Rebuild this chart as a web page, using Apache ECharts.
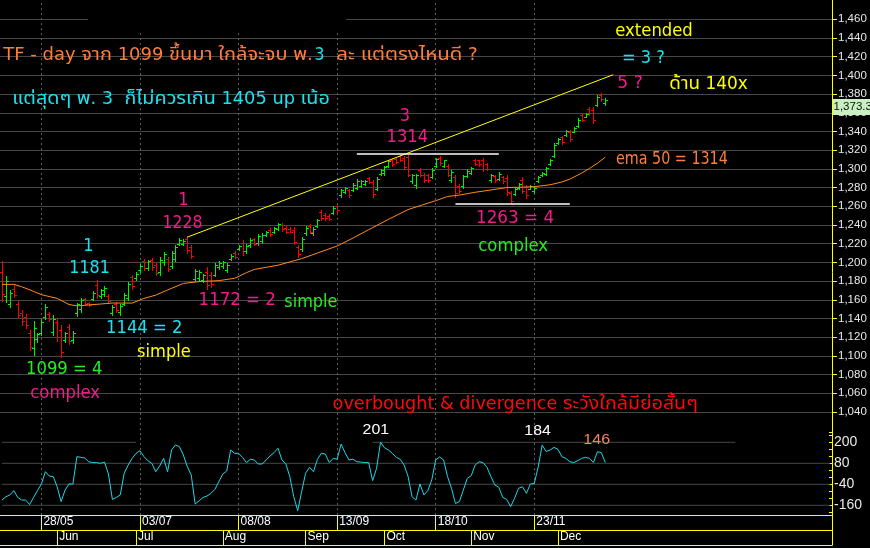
<!DOCTYPE html>
<html><head><meta charset="utf-8">
<script src="https://cdn.jsdelivr.net/npm/echarts@6/dist/echarts.min.js"></script>
<style>html,body{margin:0;padding:0;background:#000;}#c{width:870px;height:548px;}</style>
</head><body><div id="c"></div>
<script>
// ---------------- DATA ----------------
const dates = [
'14/05','15/05','16/05','17/05','18/05','21/05','22/05','23/05','24/05','25/05',
'28/05','29/05','30/05','31/05','01/06','05/06','06/06','07/06','08/06',
'11/06','12/06','13/06','14/06','15/06','18/06','19/06','20/06','21/06','22/06',
'25/06','26/06','27/06','28/06','29/06','02/07','03/07','04/07','05/07','06/07',
'09/07','10/07','11/07','12/07','13/07','16/07','17/07','18/07','19/07','20/07',
'23/07','24/07','25/07','26/07','27/07','30/07','31/07','01/08','02/08','06/08','07/08','08/08',
'09/08','10/08','14/08','15/08','16/08','17/08','20/08','21/08','22/08','23/08','24/08',
'27/08','28/08','29/08','30/08','31/08','03/09','04/09','05/09','06/09','07/09',
'10/09','11/09','12/09','13/09','14/09','17/09','18/09','19/09','20/09','21/09',
'24/09','25/09','26/09','27/09','28/09','01/10','02/10','03/10','04/10','05/10',
'08/10','09/10','10/10','11/10','12/10','15/10','16/10','17/10','18/10','19/10',
'22/10','24/10','25/10','26/10','29/10','30/10','31/10','01/11','02/11',
'05/11','06/11','07/11','08/11','09/11','12/11','13/11','14/11','15/11','16/11',
'19/11','20/11','21/11','22/11','23/11','26/11','27/11','28/11','29/11','30/11',
'03/12','04/12','06/12','07/12','11/12','12/12','13/12','14/12',
'17/12','18/12','19/12','20/12','21/12'];

const opens = [1190,1164,1156,1172,1156,1146,1142,1125,1108,1118,1125,1142,1145,1126,1136,1128,1117,1131,1117,1146,
1150,1161,1157,1161,1176,1164,1166,1164,1146,1156,1147,1156,1162,1184,1183,1192,1202,1194,1203,1197,
1190,1200,1204,1196,1204,1220,1220,1225,1216,1182,1183,1181,1190,1187,1187,1195,1196,1192,1204,1210,
1214,1221,1212,1219,1225,1221,1223,1229,1235,1232,1236,1240,1237,1236,1235,1216,1214,1231,1239,1231,
1239,1254,1251,1250,1253,1260,1272,1275,1277,1277,1280,1282,1284,1290,1286,1279,1295,1296,1303,1310,
1311,1314,1312,1313,1287,1283,1299,1294,1293,1291,1303,1312,1303,1303,1288,1291,1282,1282,1292,1296,
1310,1309,1310,1305,1288,1292,1289,1291,1290,1274,1273,1280,1288,1281,1279,1276,1287,1293,1295,1305,
1314,1328,1334,1336,1340,1340,1346,1358,1356,1364,1363,1368,1379,1370];
const highs = [1201,1185,1170,1176,1159,1149,1145,1128,1137,1125,1139,1155,1147,1144,1139,1133,1126,1134,1127,1157,
1162,1162,1158,1169,1181,1172,1175,1166,1154,1158,1155,1167,1179,1187,1190,1198,1204,1203,1205,1199,
1206,1211,1206,1212,1219,1226,1225,1228,1219,1193,1192,1188,1195,1190,1199,1201,1202,1199,1209,1212,
1219,1224,1220,1226,1226,1230,1231,1234,1237,1238,1242,1242,1239,1238,1238,1219,1227,1239,1241,1238,
1246,1256,1253,1252,1260,1261,1279,1281,1279,1285,1289,1288,1288,1291,1288,1291,1300,1303,1309,1311,
1312,1315,1314,1315,1295,1295,1301,1296,1295,1301,1312,1314,1310,1305,1299,1294,1284,1294,1300,1302,
1311,1310,1312,1306,1295,1294,1297,1292,1294,1276,1280,1285,1291,1283,1283,1282,1292,1297,1302,1311,
1328,1333,1335,1342,1342,1345,1354,1360,1360,1366,1366,1379,1381,1376];
const lows = [1159,1158,1152,1163,1141,1133,1130,1106,1101,1115,1122,1139,1137,1122,1116,1099,1115,1113,1114,1143,
1147,1154,1153,1160,1162,1162,1164,1157,1144,1147,1144,1154,1160,1172,1181,1190,1192,1192,1192,1187,
1187,1197,1191,1194,1201,1219,1219,1210,1205,1180,1180,1179,1172,1174,1185,1193,1194,1190,1203,1205,
1213,1208,1210,1217,1219,1219,1221,1228,1228,1231,1235,1234,1231,1232,1220,1206,1212,1229,1231,1229,
1238,1245,1245,1245,1252,1254,1270,1274,1270,1276,1278,1281,1283,1285,1270,1277,1294,1294,1302,1303,
1306,1308,1300,1292,1285,1280,1292,1286,1286,1290,1302,1304,1302,1292,1286,1270,1274,1280,1291,1295,
1304,1303,1298,1299,1286,1286,1288,1285,1272,1263,1272,1279,1274,1269,1278,1274,1286,1292,1294,1304,
1313,1327,1327,1335,1330,1339,1345,1351,1355,1358,1349,1367,1373,1368];
const closes = [1166,1180,1167,1165,1144,1137,1133,1110,1130,1123,1136,1152,1139,1140,1120,1104,1124,1116,1125,1155,
1160,1156,1154,1167,1165,1170,1173,1159,1152,1149,1153,1165,1177,1175,1188,1196,1194,1201,1195,1189,
1203,1209,1193,1210,1217,1224,1223,1213,1207,1191,1190,1186,1176,1177,1197,1199,1200,1197,1207,1206,
1218,1212,1218,1224,1220,1228,1229,1233,1230,1237,1241,1236,1233,1233,1222,1209,1225,1237,1233,1236,
1245,1247,1247,1246,1258,1256,1277,1280,1272,1283,1287,1287,1287,1286,1273,1289,1299,1302,1308,1305,
1307,1309,1302,1294,1293,1293,1293,1288,1288,1299,1311,1306,1309,1294,1297,1274,1276,1292,1298,1301,
1305,1305,1300,1300,1293,1288,1295,1287,1275,1266,1278,1284,1276,1272,1282,1280,1291,1296,1301,1310,
1326,1332,1329,1341,1332,1344,1352,1352,1359,1360,1352,1377,1375,1373.3];

// EMA 50 at these bar positions
const emaIdx = [0,3,5,8,10,14,17,19,22,25,28,33,36,39,42,46,50,55,59,62,64,70,76,80,85,89,93,98,103,107,110,113,116,120,124,128,132,135,139,142,144,147,149,151,153];
const emaVal = [1176.5,1176.5,1174,1169,1165.5,1161.5,1155,1153.5,1154.5,1155.5,1156.5,1156.5,1161.5,1165,1170.5,1177.5,1179.5,1180.5,1183,1189,1192.5,1197,1204,1210,1217.5,1226,1235,1246,1256.5,1262,1266,1270.5,1272,1275,1277.5,1280,1280.5,1281,1283,1286,1289,1295.5,1300.5,1306,1312.5];

// CCI (lower panel)
const cci = [-130,-111,-101,-76,-115,-130,-130,-156,-115,-76,-38,32,7,4,-54,-139,-73,-38,-38,118,
114,110,89,84,84,80,87,19,-126,-115,-101,23,70,108,137,152,118,95,80,32,
65,108,32,156,185,175,127,61,13,-153,-134,-115,-107,-92,-69,-25,19,36,156,137,
137,114,84,103,99,76,76,99,122,141,166,99,76,4,-111,-191,-82,23,57,32,
103,137,133,84,108,103,190,141,99,103,89,87,84,84,-19,51,201,169,156,137,
114,103,70,4,-111,-130,-38,-101,-76,-15,100,116,99,4,-63,-149,-139,-73,-6,9,
70,89,84,57,4,-44,-57,-115,-126,-168,-120,-63,-54,-92,-38,-35,61,184,147,156,
171,160,118,108,89,84,95,108,114,108,84,146,141,84];

const dateTickLabels = ['28/05','03/07','08/08','13/09','18/10','23/11'];
const monthNames = ['Jun','Jul','Aug','Sep','Oct','Nov','Dec'];
const monthStarts = ['01/06','02/07','01/08','03/09','01/10','01/11','03/12'];
const cciLevels = [200, 80, -40, -160];
const cci200Spans = [[0, 34], [94, 186]];
const trendIdx = [47, 155];
const trendVal = [1227, 1400.7];
const resistIdx = [90, 126];
const resistVal = 1316;
const supportIdx = [115, 144];
const supportVal = 1262.5;
const lastPrice = 1373.3;
const futureSlots = 57;

// ---------------- STYLE ----------------
const FONT = "'Liberation Sans', 'Noto Sans Thai', 'Noto Sans Thai UI', 'Noto Sans', Tahoma, sans-serif";
const NOTE_FONT = "'DejaVu Sans Condensed', 'DejaVu Sans', 'Noto Sans Thai', 'Noto Sans', sans-serif";
const NARROW = "'Liberation Sans Narrow', 'Liberation Sans', sans-serif";
const YEL = '#ffff00', UP = '#00f000', DOWN = '#ff0000', GRID = '#474747', DASH = '#5c5c5c';
const ORANGE_L = '#ff8c1a', ORANGE_T = '#ff7d3c', CYAN_L = '#1ad8e8', CYAN_T = '#19e3f2';
const PINK = '#f21a8c', GREEN_T = '#22ee22', RED_T = '#ff0a0a', SALMON = '#f5845a';

const cats = dates.concat(Array.from({length: futureSlots}, (_, k) => '+' + (k + 1)));
const lastCat = cats.length - 1;
const ohlc = dates.map((d, i) => [i, opens[i], highs[i], lows[i], closes[i]]);
const emaPairs = emaIdx.map((x, k) => [x, emaVal[k]]);
const fmtComma = v => {
  const s = String(v).split('.');
  return s[0].replace(/\B(?=(\d{3})+(?!\d))/g, ',') + (s[1] ? '.' + s[1] : '');
};

function renderOHLC(params, api) {
  const i = api.value(0);
  const o = api.value(1), h = api.value(2), l = api.value(3), c = api.value(4);
  const ph = api.coord([i, h]), pl = api.coord([i, l]), po = api.coord([i, o]), pc = api.coord([i, c]);
  const x = Math.round(ph[0]) + 0.5;
  const col = c >= o ? UP : DOWN;
  const yo = Math.round(po[1]) + 0.5, yc = Math.round(pc[1]) + 0.5;
  return {type: 'group', children: [
    {type: 'line', shape: {x1: x, y1: Math.round(ph[1]), x2: x, y2: Math.round(pl[1]) + 1}, style: {stroke: col, lineWidth: 1}},
    {type: 'line', shape: {x1: x - 2.5, y1: yo, x2: x, y2: yo}, style: {stroke: col, lineWidth: 1}},
    {type: 'line', shape: {x1: x, y1: yc, x2: x + 2.5, y2: yc}, style: {stroke: col, lineWidth: 1}}
  ]};
}

const chart = echarts.init(document.getElementById('c'), null, {width: 870, height: 548});

const dateAxisBase = {type: 'category', gridIndex: 1, data: cats, boundaryGap: true, position: 'bottom',
  axisLine: {show: true, onZero: false, lineStyle: {color: YEL, width: 1}}, splitLine: {show: false}};

// reference lines of the lower panel (grid lines at the CCI levels)
const cciGridSeries = [];
cciLevels.forEach(v => {
  const spans = v === 200 ? cci200Spans : [[0, lastCat]];
  spans.forEach(s => cciGridSeries.push({
    type: 'line', xAxisIndex: 1, yAxisIndex: 1, data: [[s[0], v], [s[1], v]], symbol: 'none',
    silent: true, z: 1, lineStyle: {color: GRID, width: 1}
  }));
});

const option = {
  backgroundColor: '#000',
  animation: false,
  textStyle: {fontFamily: FONT},
  grid: [
    {left: 0, top: 0.6, width: 832, height: 411.4, outerBoundsMode: 'none'},
    {left: 0, top: 431.8, width: 832, height: 80.5, outerBoundsMode: 'none'},
    {left: 0, top: 0, width: 832, height: 515, outerBoundsMode: 'none'}
  ],
  xAxis: [
    {type: 'category', gridIndex: 0, data: cats, boundaryGap: true, show: false, axisLine: {onZero: false}},
    Object.assign({}, dateAxisBase, {offset: 3,
      axisTick: {show: true, alignWithLabel: true, inside: false, length: 15,
        interval: (i, v) => dateTickLabels.includes(v), lineStyle: {color: YEL}},
      axisLabel: {show: true, interval: (i, v) => dateTickLabels.includes(v), align: 'left', margin: 0,
        padding: [0, 0, 0, 2], color: '#ffffff', fontSize: 12, fontFamily: NARROW}}),
    Object.assign({}, dateAxisBase, {offset: 18,
      axisTick: {show: true, alignWithLabel: true, inside: false, length: 15,
        interval: (i, v) => monthStarts.includes(v), lineStyle: {color: YEL}},
      axisLabel: {show: true, interval: (i, v) => monthStarts.includes(v), align: 'left', margin: 0,
        padding: [0, 0, 0, 2], color: '#ffffff', fontSize: 12, fontFamily: NARROW,
        formatter: v => { const k = monthStarts.indexOf(v); return k >= 0 ? monthNames[k] : ''; }}}),
    Object.assign({}, dateAxisBase, {offset: 33, axisTick: {show: false}, axisLabel: {show: false}}),
    {type: 'category', gridIndex: 2, data: cats, boundaryGap: true, show: false, axisLine: {onZero: false}}
  ],
  yAxis: [
    {type: 'value', gridIndex: 0, position: 'right', min: 1040, max: 1480, interval: 20,
      axisLine: {show: false, onZero: false},
      axisTick: {show: true, inside: false, length: 5, lineStyle: {color: YEL}},
      axisLabel: {show: true, margin: 6, color: '#e8e8e8', fontSize: 11.5, showMaxLabel: false,
        formatter: v => fmtComma(v)},
      splitLine: {show: true, showMaxLine: false, lineStyle: {color: GRID, width: 1}}},
    {type: 'value', gridIndex: 1, position: 'right', min: -200, max: 260, interval: 40,
      axisLine: {show: false, onZero: false},
      axisTick: {show: true, inside: true, length: 3, lineStyle: {color: YEL}},
      axisLabel: {show: true, margin: 2, color: '#e8e8e8', fontSize: 14,
        formatter: v => cciLevels.includes(v) ? String(v) : ''},
      splitLine: {show: false}},
    {type: 'value', gridIndex: 2, min: 0, max: 1, show: false}
  ],
  series: [
    {type: 'line', xAxisIndex: 4, yAxisIndex: 2, data: [], z: 0, silent: true,
      markLine: {silent: true, z: 0, symbol: ['none', 'none'], label: {show: false}, animation: false,
        lineStyle: {color: DASH, type: [2, 3], width: 1},
        data: dateTickLabels.map(d => ({xAxis: d}))}},
    {type: 'custom', name: 'TF', xAxisIndex: 0, yAxisIndex: 0, renderItem: renderOHLC,
      encode: {x: 0, y: [1, 2, 3, 4]}, data: ohlc, z: 3},
    {type: 'line', name: 'EMA50', xAxisIndex: 0, yAxisIndex: 0, data: emaPairs, symbol: 'none',
      lineStyle: {color: ORANGE_L, width: 1}, z: 4},
    {type: 'line', name: 'trend', xAxisIndex: 0, yAxisIndex: 0,
      data: trendIdx.map((x, k) => [x, trendVal[k]]), symbol: 'none',
      lineStyle: {color: YEL, width: 1}, z: 4},
    {type: 'line', name: 'resistance', xAxisIndex: 0, yAxisIndex: 0,
      data: resistIdx.map(x => [x, resistVal]), symbol: 'none',
      lineStyle: {color: '#ffffff', width: 1.5}, z: 4},
    {type: 'line', name: 'support', xAxisIndex: 0, yAxisIndex: 0,
      data: supportIdx.map(x => [x, supportVal]), symbol: 'none',
      lineStyle: {color: '#ffffff', width: 1.5}, z: 4},
    ...cciGridSeries,
    {type: 'line', name: 'CCI', xAxisIndex: 1, yAxisIndex: 1, data: cci, symbol: 'none',
      lineStyle: {color: CYAN_L, width: 1}, z: 4}
  ]
};
chart.setOption(option);

// ---------------- ANNOTATIONS (text) ----------------
const notes = [
  ['TF - day จาก 1099 ขึ้นมา ใกล้จะจบ พ.', ORANGE_T, 4, 312, 55, 17.5],
  ['3', CYAN_T, 319.5, null, 55, 17.5],
  ['ละ แต่ตรงไหนดี ?', ORANGE_T, 337, 477, 55, 17.5],
  ['แต่สุดๆ พ. 3  ก็ไม่ควรเกิน 1405 up เน้อ', CYAN_T, 13, 329, 99, 17.5],
  ['extended', YEL, 616, 692, 31.5, 18],
  ['= 3 ?', CYAN_T, 622.7, 664, 58, 18],
  ['5 ?', PINK, 618, 642, 83, 18],
  ['ด้าน 140x', YEL, 670, 747, 84.5, 18],
  ['ema 50 = 1314', ORANGE_T, 616.7, 727, 159, 17.5],
  ['3', PINK, 405, null, 116.3, 18],
  ['1314', PINK, 387.3, 427.3, 137, 18],
  ['1', PINK, 183.5, null, 200.7, 18],
  ['1228', PINK, 163.3, 201.7, 223, 18],
  ['1', CYAN_T, 88.3, null, 246, 18],
  ['1181', CYAN_T, 70, 109, 268.7, 18],
  ['1172 = 2', PINK, 199.3, 275, 300.3, 18],
  ['simple', GREEN_T, 285, 336.7, 302.5, 18],
  ['1144 = 2', CYAN_T, 106.7, 181.7, 328.3, 18],
  ['simple', YEL, 137.7, 190, 352, 18],
  ['1099 = 4', GREEN_T, 26.7, 101.7, 369.7, 18],
  ['complex', PINK, 31, 99.3, 393, 18],
  ['1263 = 4', PINK, 476.7, 553.3, 218.8, 18],
  ['complex', GREEN_T, 479, 547.3, 246.5, 18],
  ['overbought & divergence ระวังใกล้มีย่อสั้นๆ', RED_T, 333.3, 697, 404, 17.5],
  ['201', '#ffffff', 363.3, 388.3, 430, 15, FONT],
  ['184', '#ffffff', 525, 550, 431, 15, FONT],
  ['146', SALMON, 584, 609.3, 440, 15, FONT]
];
const mctx = document.createElement('canvas').getContext('2d');
const elements = [
  {type: 'rect', shape: {x: 88, y: 0, width: 258, height: 32}, style: {fill: '#000'}, z: 1, silent: true},
  {type: 'line', shape: {x1: 832.5, y1: 0, x2: 832.5, y2: 545.5}, style: {stroke: YEL, lineWidth: 1}, z: 15, silent: true}
];
notes.forEach(([t, col, x1, x2, cy, size, fam]) => {
  const font = size + 'px ' + (fam || NOTE_FONT);
  if (x2 == null) {
    elements.push({type: 'text', x: x1, y: cy, z: 20, silent: true,
      style: {text: t, fill: col, font: font, align: 'center', verticalAlign: 'middle'}});
  } else {
    mctx.font = font;
    const w = mctx.measureText(t).width;
    let sx = (x2 - x1 + 1.5) / w;
    sx = Math.max(0.75, Math.min(1.3, sx));
    elements.push({type: 'text', x: x1 - 0.7, y: cy, scaleX: sx, z: 20, silent: true,
      style: {text: t, fill: col, font: font, align: 'left', verticalAlign: 'middle'}});
  }
});
// last price box, positioned through the price axis
const py = chart.convertToPixel({yAxisIndex: 0}, lastPrice);
elements.push({type: 'rect', shape: {x: 833, y: Math.round(py) - 1, width: 37, height: 16},
  style: {fill: '#c8f0c0'}, z: 16, silent: true});
elements.push({type: 'text', x: 833.5, y: Math.round(py) + 7, z: 17, silent: true,
  style: {text: fmtComma(lastPrice), fill: '#101010', font: '11.5px ' + FONT, align: 'left', verticalAlign: 'middle'}});
chart.setOption({graphic: {elements: elements}});
</script>
</body></html>
